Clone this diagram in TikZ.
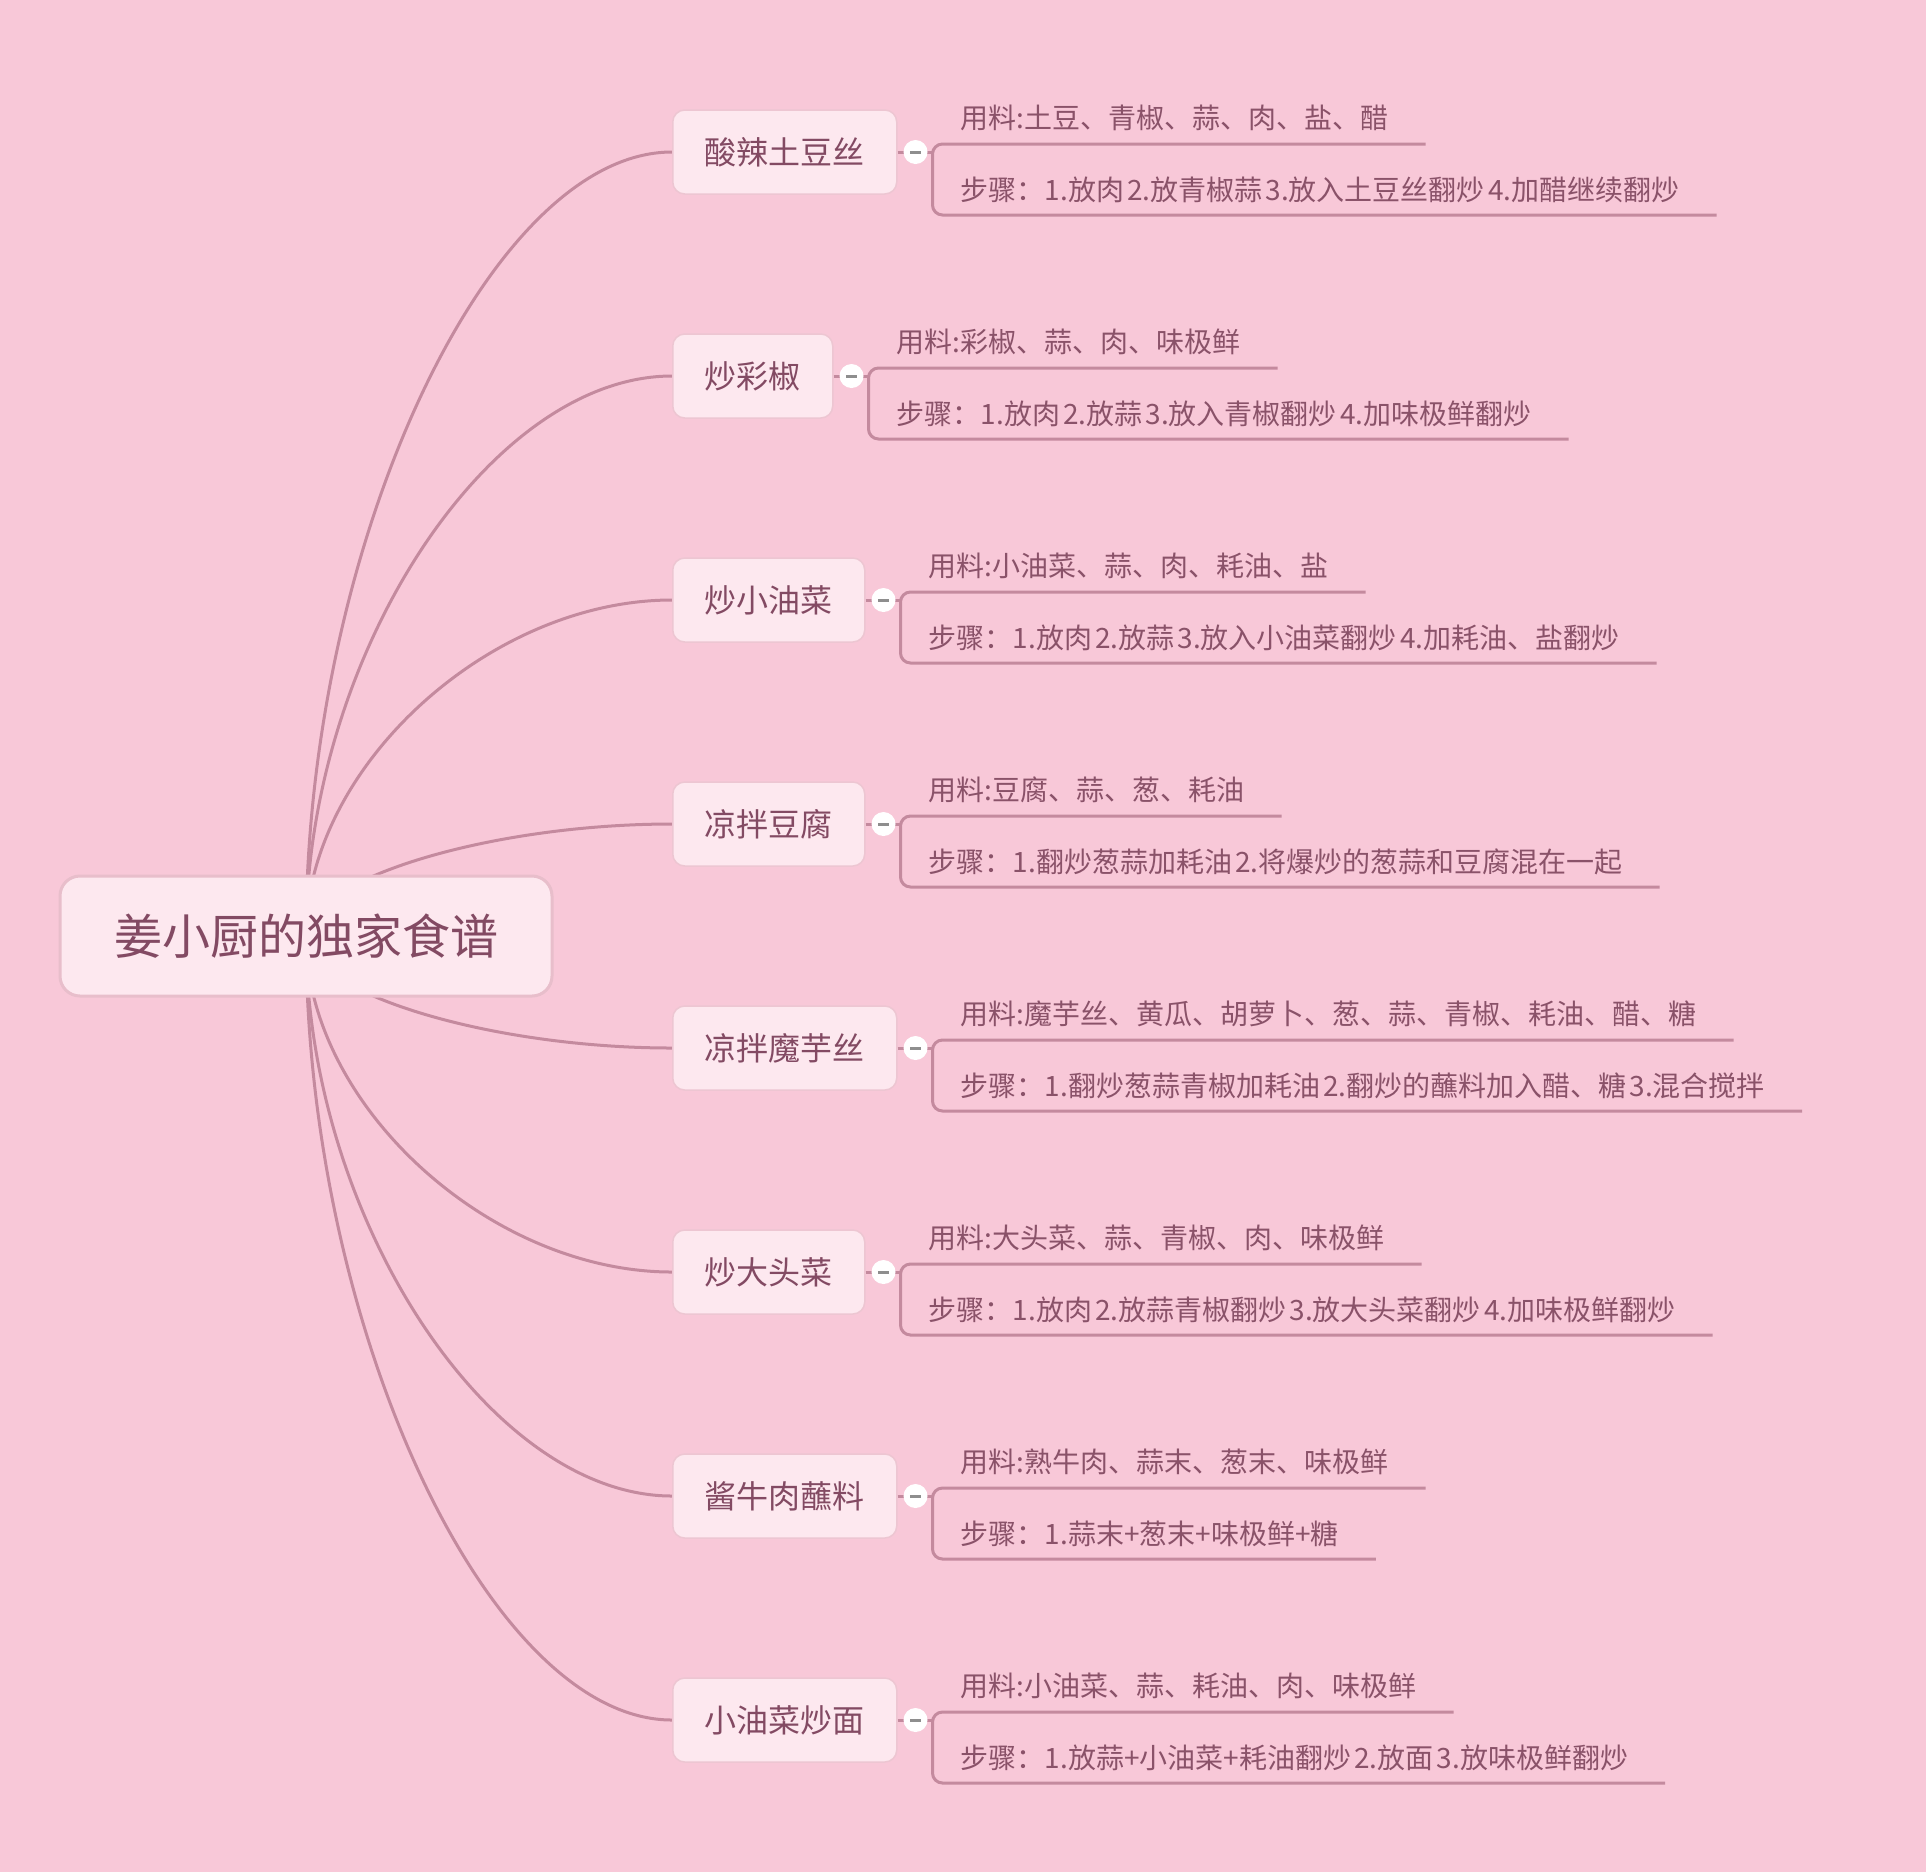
\documentclass[tikz,border=0pt]{standalone}
\usepackage{fontspec}
\setmainfont{Noto Sans CJK SC}[WordSpace=0.5]
\usetikzlibrary{calc}
\definecolor{bgc}{HTML}{F8C8D8}
\definecolor{boxfill}{HTML}{FDE8EF}
\definecolor{rootborder}{HTML}{E8BECB}
\definecolor{topborder}{HTML}{EDC6D2}
\definecolor{linec}{HTML}{C48A9E}
\definecolor{txt}{HTML}{834A63}
\definecolor{subtxt}{HTML}{8A5269}
\definecolor{minusc}{HTML}{8E8E8E}
\pgfdeclarelayer{back}
\pgfdeclarelayer{lines}
\pgfsetlayers{back,lines,main}
\tikzset{
  rootbox/.style={draw=rootborder, line width=3pt, fill=boxfill, rounded corners=20pt,
    minimum width=492pt, minimum height=120pt, inner sep=0pt,
    font=\fontsize{48}{58}\selectfont, text=txt},
  topicbox/.style={draw=topborder, line width=1.5pt, fill=boxfill, rounded corners=12pt,
    minimum height=84pt, inner xsep=32pt, inner ysep=0pt,
    font=\fontsize{32}{38}\selectfont, text=txt, anchor=west},
  subtext/.style={inner sep=0pt, anchor=west, font=\fontsize{28}{34}\selectfont, text=subtxt},
  conn/.style={draw=linec, line width=3pt},
  collapse/.style={circle, fill=white, minimum size=24pt, inner sep=0pt},
}
\newcommand\myrecipe[5]{%
  \node[topicbox] (t#1) at (672,#2) {#3};
  \coordinate (k#1) at ($(t#1.east)+(35,0)$);
  \node[subtext] (a#1) at ($(k#1)+(28,-34)$) {#4};
  \node[subtext] (b#1) at ($(k#1)+(28,38)$) {#5};
  \coordinate (ta#1) at ($(k#1)+(0,-8)$);
  \coordinate (tb#1) at ($(k#1)+(0,63)$);
  \coordinate (ea#1) at ($(ta#1 -| a#1.east)+(37,0)$);
  \coordinate (eb#1) at ($(tb#1 -| b#1.east)+(37,0)$);
  \draw[conn, rounded corners=10pt] (ea#1) -- (ta#1) -- (tb#1) -- (eb#1);
  \draw[conn] (t#1.east) -- (k#1);
  \node[collapse] (o#1) at ($(t#1.east)+(18,0)$) {\color{minusc}\rule[-1.5pt]{11pt}{3pt}};
  \begin{pgfonlayer}{lines}
    \coordinate (m#1) at ($(root.center)!0.5!(t#1.west)$);
    \draw[conn] (root.center) .. controls (root.center |- m#1) and (m#1 |- t#1.west) .. (t#1.west);
  \end{pgfonlayer}
}
\begin{document}
\begin{tikzpicture}[x=1pt,y=-1pt]
\useasboundingbox (0,0) rectangle (1926,1872);
\begin{pgfonlayer}{back}
  \fill[bgc] (0,0) rectangle (1926,1872);
\end{pgfonlayer}
\node[rootbox] (root) at (306,936) {姜小厨的独家食谱};
\myrecipe{1}{152}{酸辣土豆丝}{用料:土豆、青椒、蒜、肉、盐、醋}{步骤：1.放肉 2.放青椒蒜 3.放入土豆丝翻炒 4.加醋继续翻炒}
\myrecipe{2}{376}{炒彩椒}{用料:彩椒、蒜、肉、味极鲜}{步骤：1.放肉 2.放蒜 3.放入青椒翻炒 4.加味极鲜翻炒}
\myrecipe{3}{600}{炒小油菜}{用料:小油菜、蒜、肉、耗油、盐}{步骤：1.放肉 2.放蒜 3.放入小油菜翻炒 4.加耗油、盐翻炒}
\myrecipe{4}{824}{凉拌豆腐}{用料:豆腐、蒜、葱、耗油}{步骤：1.翻炒葱蒜加耗油 2.将爆炒的葱蒜和豆腐混在一起}
\myrecipe{5}{1048}{凉拌魔芋丝}{用料:魔芋丝、黄瓜、胡萝卜、葱、蒜、青椒、耗油、醋、糖}{步骤：1.翻炒葱蒜青椒加耗油 2.翻炒的蘸料加入醋、糖 3.混合搅拌}
\myrecipe{6}{1272}{炒大头菜}{用料:大头菜、蒜、青椒、肉、味极鲜}{步骤：1.放肉 2.放蒜青椒翻炒 3.放大头菜翻炒 4.加味极鲜翻炒}
\myrecipe{7}{1496}{酱牛肉蘸料}{用料:熟牛肉、蒜末、葱末、味极鲜}{步骤：1.蒜末+葱末+味极鲜+糖}
\myrecipe{8}{1720}{小油菜炒面}{用料:小油菜、蒜、耗油、肉、味极鲜}{步骤：1.放蒜+小油菜+耗油翻炒 2.放面 3.放味极鲜翻炒}
\end{tikzpicture}
\end{document}
